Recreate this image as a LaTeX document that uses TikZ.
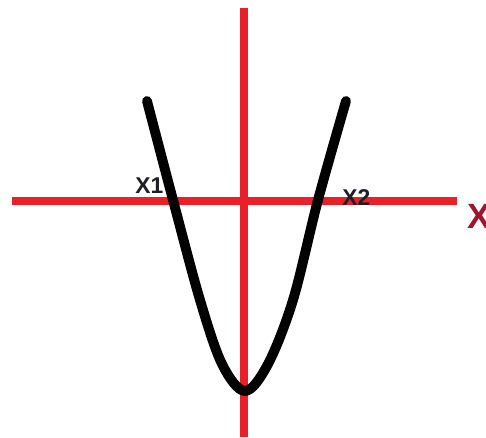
\documentclass[tikz,border=0pt]{standalone}
\usepackage{fontspec}
\setmainfont{Liberation Sans}
\usepackage{tikz}
\definecolor{axisred}{HTML}{E8202A}
\definecolor{darkred}{HTML}{9E1530}
\definecolor{ink}{HTML}{1E1E24}
\tikzset{
  axis/.style={draw=axisred,line width=4.4pt},
  curve/.style={draw=black,line width=5.6pt,line cap=round,line join=round},
  rootlabel/.style={font=\fontsize{13}{13}\selectfont\bfseries,text=ink,inner sep=0pt},
  axislabel/.style={font=\fontsize{20}{20}\selectfont\bfseries,text=darkred,inner sep=0pt}
}

\begin{document}
\begin{tikzpicture}[x=0.02cm,y=-0.02cm]
      \useasboundingbox (0,0) rectangle (486,437);
      % axes
      \coordinate (xl) at (12,201);
      \coordinate (xr) at (457,201);
      \coordinate (yt) at (244,8);
      \coordinate (yb) at (244,437);
      \draw[axis] (xl)--(xr);
      \draw[axis] (yt)--(yb);
      % labels
      \node[rootlabel,anchor=base west] (x1) at (135,193) {X1};
      \node[rootlabel,anchor=base west] (x2) at (342,205) {X2};
      \node[axislabel,anchor=base west] (xname) at (467,228) {X};
      % curve
      \draw[curve] plot[smooth,tension=0.55] coordinates
        {(147,101) (173,200) (200,300) (222,364) (245,391) (268,364) (293,300) (318,200) (346,101)};
    \end{tikzpicture}
\end{document}
